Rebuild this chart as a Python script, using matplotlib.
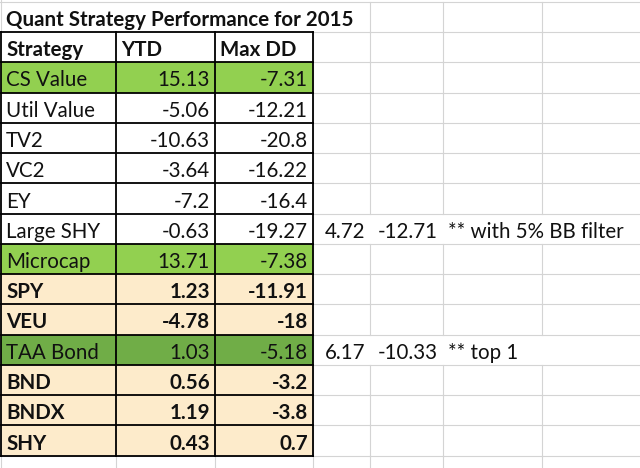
import matplotlib.pyplot as plt
from matplotlib.patches import Rectangle

title = "Quant Strategy Performance for 2015"
headers = ["Strategy", "YTD", "Max DD"]
strategies = ["CS Value", "Util Value", "TV2", "VC2", "EY", "Large SHY", "Microcap",
              "SPY", "VEU", "TAA Bond", "BND", "BNDX", "SHY"]
ytd = [15.13, -5.06, -10.63, -3.64, -7.2, -0.63, 13.71, 1.23, -4.78, 1.03, 0.56, 1.19, 0.43]
max_dd = [-7.31, -12.21, -20.8, -16.22, -16.4, -19.27, -7.38, -11.91, -18, -5.18, -3.2, -3.8, 0.7]
fills = ["green", "", "", "", "", "", "green", "tan", "tan", "dkgreen", "tan", "tan", "tan"]
bold = [False] * 7 + [True, True, False, True, True, True]

note_rows = ["Large SHY", "TAA Bond"]
note_ytd = [4.72, 6.17]
note_dd = [-12.71, -10.33]
note_text = ["** with 5% BB filter", "** top 1"]

fill_colors = {"green": "#92D050", "dkgreen": "#70AD47", "tan": "#FDEBCB"}

# sheet layout in pixels
col_x = [1, 116, 215, 313, 370, 443, 542, 700]
row_h = 30.25
row_y = [1.75 + row_h * k for k in range(16)]
n_rows = 15

plt.rcParams['font.family'] = ['Lato', 'DejaVu Sans']
fs = 14.8
txt = "#111111"
base_off = 6  # baseline distance above row bottom

fig = plt.figure(figsize=(6.4, 4.68), dpi=100)
ax = fig.add_axes([0, 0, 1, 1])
ax.set_xlim(0, 640)
ax.set_ylim(468, 0)
ax.axis('off')


def put(x, row_bottom, s, ha='left', weight='normal'):
    ax.text(x, row_bottom - base_off, s, fontsize=fs, fontweight=weight, color=txt,
            va='baseline', ha=ha, zorder=4)


grid = "#D4D4D4"
# horizontal gridlines
for y in row_y + [row_y[-1] + row_h]:
    ax.plot([0, 640], [y, y], color=grid, lw=0.8, zorder=1)
# vertical gridlines, skipping cells covered by text
rows_all = row_y + [row_y[-1] + row_h, 480]
for r in range(len(rows_all) - 1):
    name = strategies[r - 2] if 2 <= r < 2 + len(strategies) else None
    for x in col_x[1:-1]:
        if r == 0 and x <= 313:
            continue
        if name in note_rows and x > 313:
            continue
        ax.plot([x, x], [rows_all[r], rows_all[r + 1]], color=grid, lw=0.8, zorder=1)
ax.plot([1, 1], [0, 468], color=grid, lw=0.8, zorder=1)

# title
put(6, row_y[1], title, weight='bold')

# header
for k, h in enumerate(headers):
    put(col_x[k] + 5, row_y[2], h, weight='bold')
ax.add_patch(Rectangle((col_x[0], row_y[1]), col_x[3] - col_x[0], row_h,
                       facecolor='white', edgecolor='none', zorder=2))

for i, name in enumerate(strategies):
    top, bot = row_y[i + 2], row_y[i + 3]
    fc = fill_colors.get(fills[i], 'white')
    ax.add_patch(Rectangle((col_x[0], top), col_x[3] - col_x[0], bot - top,
                           facecolor=fc, edgecolor='none', zorder=2))
    w = 'bold' if bold[i] else 'normal'
    put(6, bot, name, weight=w)
    put(col_x[2] - 5, bot, f"{ytd[i]:g}", ha='right', weight=w)
    put(col_x[3] - 5, bot, f"{max_dd[i]:g}", ha='right', weight=w)
    if name in note_rows:
        j = note_rows.index(name)
        put(col_x[4] - 5, bot, f"{note_ytd[j]:g}", ha='right')
        put(col_x[5] - 5, bot, f"{note_dd[j]:g}", ha='right')
        put(col_x[5] + 5, bot, note_text[j])

# black table borders
for y in row_y[1:n_rows + 1]:
    ax.plot([col_x[0], col_x[3]], [y, y], color='black', lw=1.3, zorder=3,
            solid_capstyle='projecting')
for x in col_x[:4]:
    ax.plot([x, x], [row_y[1], row_y[n_rows]], color='black', lw=1.3, zorder=3,
            solid_capstyle='projecting')

fig.savefig("out.png", dpi=100)
